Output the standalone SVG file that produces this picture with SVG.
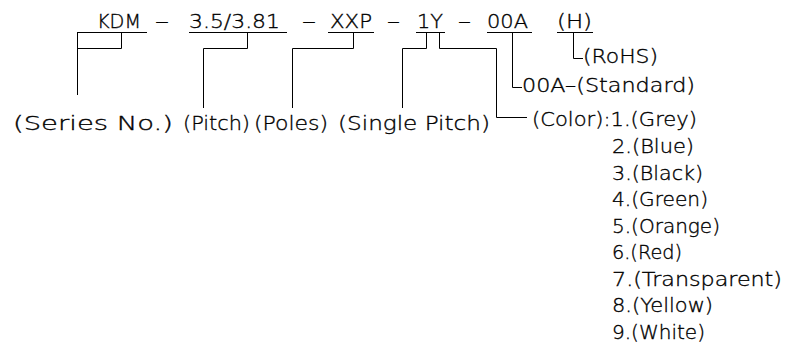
<svg xmlns="http://www.w3.org/2000/svg" width="787" height="347" viewBox="0 0 787 347">
<style>
text{font-family:"DejaVu Sans","Liberation Sans",sans-serif;font-weight:200;fill:#000;stroke:#000;stroke-width:0.35}
.t{font-size:19px}
.b{font-size:20px}
.r{font-size:19px}
.ln{fill:none;stroke:#000;stroke-width:1}
</style>
<rect width="787" height="347" fill="#fff"/>
<g id="code">
<text class="t" x="97" y="28" textLength="44" lengthAdjust="spacingAndGlyphs">KDM</text>
<text class="t" x="155" y="28" textLength="14" lengthAdjust="spacingAndGlyphs">–</text>
<text class="t" x="189" y="28" textLength="91" lengthAdjust="spacingAndGlyphs">3.5/3.81</text>
<text class="t" x="302" y="28" textLength="14" lengthAdjust="spacingAndGlyphs">–</text>
<text class="t" x="330" y="28" textLength="42" lengthAdjust="spacingAndGlyphs">XXP</text>
<text class="t" x="387" y="28" textLength="13" lengthAdjust="spacingAndGlyphs">–</text>
<text class="t" x="417" y="28" textLength="26" lengthAdjust="spacingAndGlyphs">1Y</text>
<text class="t" x="458" y="28" textLength="13" lengthAdjust="spacingAndGlyphs">–</text>
<text class="t" x="487" y="28" textLength="41" lengthAdjust="spacingAndGlyphs">00A</text>
<text class="t" x="557" y="28" textLength="35" lengthAdjust="spacingAndGlyphs">(H)</text>
</g>
<g id="underlines" class="ln">
<path d="M77 32.5H147M189 32.5H287M328 32.5H374M416 32.5H445M487 32.5H532M557 32.5H593"/>
</g>
<g id="connectors" class="ln">
<path d="M121.5 32V48.5H77.5M77.5 32V95"/>
<path d="M247.5 32V48.5H203.5V108"/>
<path d="M353.5 32V48.5H292.5V108"/>
<path d="M426.5 32V48.5H402.5V108"/>
<path d="M439.5 32V48.5H496.5V117.5H527"/>
<path d="M512.5 32V87.5H522"/>
<path d="M573.5 32V58.5H583"/>
</g>
<g id="series"><text class="b" x="13" y="130" textLength="160" lengthAdjust="spacingAndGlyphs">(Series No.)</text></g>
<g id="pitch"><text class="b" x="183" y="130" textLength="67" lengthAdjust="spacingAndGlyphs">(Pitch)</text></g>
<g id="poles"><text class="b" x="254" y="130" textLength="74" lengthAdjust="spacingAndGlyphs">(Poles)</text></g>
<g id="single-pitch"><text class="b" x="338" y="130" textLength="152" lengthAdjust="spacingAndGlyphs">(Single Pitch)</text></g>
<g id="rohs"><text class="r" x="583" y="63" textLength="75" lengthAdjust="spacingAndGlyphs">(RoHS)</text></g>
<g id="standard"><text class="r" x="522" y="92" textLength="173" lengthAdjust="spacingAndGlyphs">00A–(Standard)</text></g>
<g id="color">
<text class="r" x="532" y="126" textLength="165" lengthAdjust="spacingAndGlyphs">(Color):1.(Grey)</text>
<text class="r" x="612" y="153" textLength="82" lengthAdjust="spacingAndGlyphs">2.(Blue)</text>
<text class="r" x="612" y="179.5" textLength="91" lengthAdjust="spacingAndGlyphs">3.(Black)</text>
<text class="r" x="612" y="206" textLength="96" lengthAdjust="spacingAndGlyphs">4.(Green)</text>
<text class="r" x="612" y="232.5" textLength="108" lengthAdjust="spacingAndGlyphs">5.(Orange)</text>
<text class="r" x="612" y="259" textLength="70" lengthAdjust="spacingAndGlyphs">6.(Red)</text>
<text class="r" x="612" y="285.5" textLength="170" lengthAdjust="spacingAndGlyphs">7.(Transparent)</text>
<text class="r" x="612" y="312" textLength="101" lengthAdjust="spacingAndGlyphs">8.(Yellow)</text>
<text class="r" x="612" y="338.5" textLength="93" lengthAdjust="spacingAndGlyphs">9.(White)</text>
</g>
</svg>
